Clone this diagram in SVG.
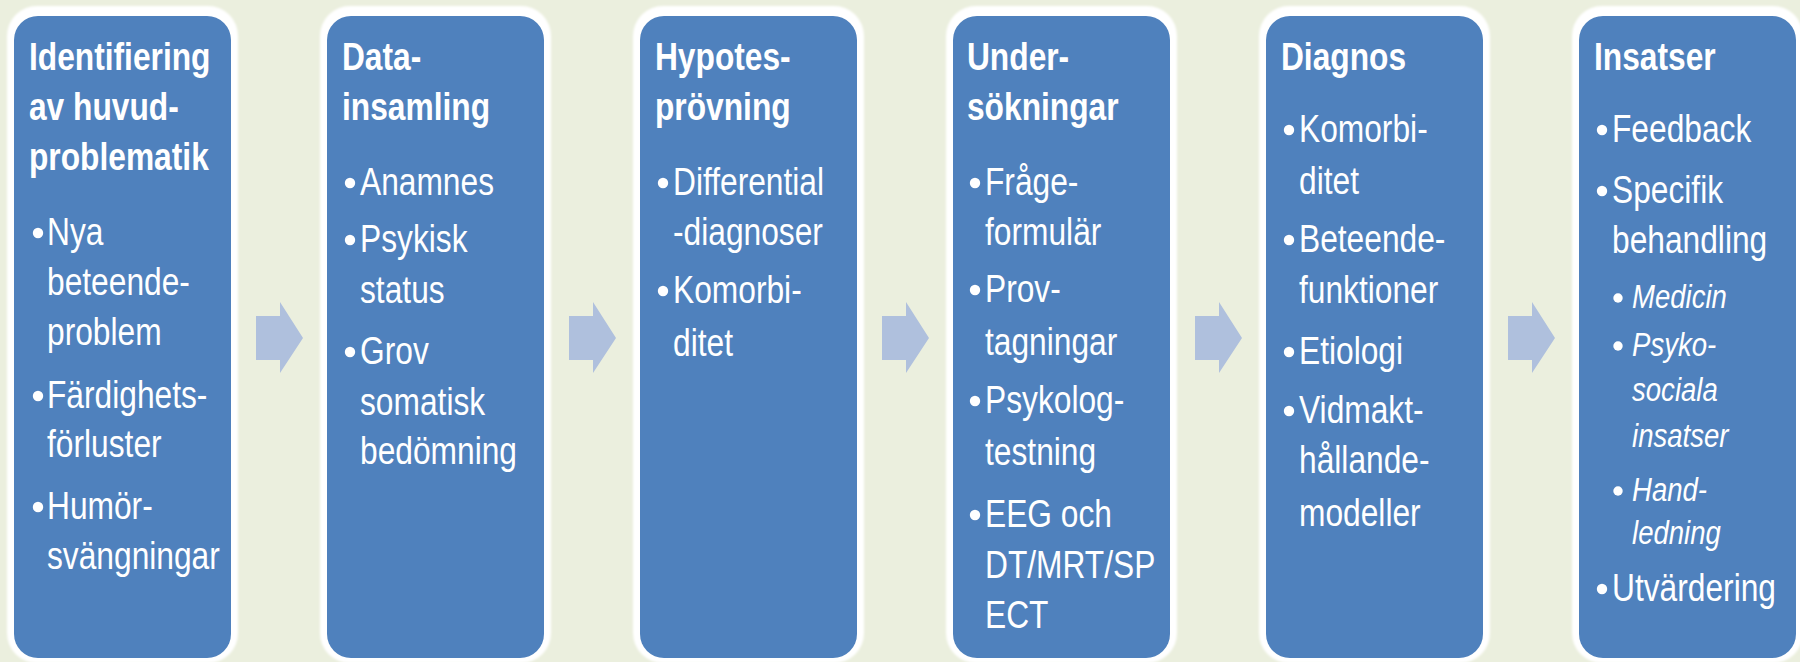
<svg xmlns="http://www.w3.org/2000/svg" width="1800" height="662" viewBox="0 0 1800 662">
<defs>
<filter id="soft" x="-5%" y="-5%" width="110%" height="110%"><feGaussianBlur stdDeviation="1.2"/></filter>
<polygon id="arr" points="256,316 280,316 280,302 303,338 280,373 280,360 256,360"/>
</defs>
<style>
.frame{fill:#ffffff;filter:url(#soft)}
.box{fill:#4f81bd}
.arrow{fill:#afc0dd}
text{font-family:"Liberation Sans",Arial,sans-serif;fill:#ffffff}
.t{font-size:38px;font-weight:bold}
.b{font-size:38px}
.i{font-size:33px;font-style:italic}
.dot{fill:#ffffff}
</style>
<rect x="0" y="0" width="1800" height="662" fill="#ebefde"/>

<g id="connectors">
<use href="#arr" class="arrow"/>
<use href="#arr" class="arrow" x="313"/>
<use href="#arr" class="arrow" x="626"/>
<use href="#arr" class="arrow" x="939"/>
<use href="#arr" class="arrow" x="1252"/>
</g>

<g id="node1">
<rect class="frame" x="7" y="6" width="231" height="657" rx="30"/>
<rect class="box" x="14" y="16" width="217" height="642" rx="24"/>
<circle class="dot" cx="38" cy="233" r="5.2"/>
<circle class="dot" cx="38" cy="396" r="5.2"/>
<circle class="dot" cx="38" cy="507" r="5.2"/>
<g transform="matrix(0.835,0,0,1,7.755,0)">
<text class="t" x="25.4" y="70">Identifiering</text>
<text class="t" x="25.4" y="120">av huvud-</text>
<text class="t" x="25.4" y="170">problematik</text>
<text class="b" x="47" y="245">Nya</text>
<text class="b" x="47" y="295">beteende-</text>
<text class="b" x="47" y="345">problem</text>
<text class="b" x="47" y="408">Färdighets-</text>
<text class="b" x="47" y="457">förluster</text>
<text class="b" x="47" y="519">Humör-</text>
<text class="b" x="47" y="569">svängningar</text>
</g>
</g>

<g id="node2">
<rect class="frame" x="320" y="6" width="231" height="657" rx="30"/>
<rect class="box" x="327" y="16" width="217" height="642" rx="24"/>
<circle class="dot" cx="350" cy="183" r="5.2"/>
<circle class="dot" cx="350" cy="240" r="5.2"/>
<circle class="dot" cx="350" cy="352" r="5.2"/>
<g transform="matrix(0.835,0,0,1,59.4,0)">
<text class="t" x="338.4" y="70">Data-</text>
<text class="t" x="338.4" y="120">insamling</text>
<text class="b" x="360" y="195">Anamnes</text>
<text class="b" x="360" y="252">Psykisk</text>
<text class="b" x="360" y="303">status</text>
<text class="b" x="360" y="364">Grov</text>
<text class="b" x="360" y="415">somatisk</text>
<text class="b" x="360" y="464">bedömning</text>
</g>
</g>

<g id="node3">
<rect class="frame" x="633" y="6" width="231" height="657" rx="30"/>
<rect class="box" x="640" y="16" width="217" height="642" rx="24"/>
<circle class="dot" cx="663" cy="183" r="5.2"/>
<circle class="dot" cx="663" cy="291" r="5.2"/>
<g transform="matrix(0.835,0,0,1,111.045,0)">
<text class="t" x="651.4" y="70">Hypotes-</text>
<text class="t" x="651.4" y="120">prövning</text>
<text class="b" x="673" y="195">Differential</text>
<text class="b" x="673" y="245">-diagnoser</text>
<text class="b" x="673" y="303">Komorbi-</text>
<text class="b" x="673" y="356">ditet</text>
</g>
</g>

<g id="node4">
<rect class="frame" x="946" y="6" width="231" height="657" rx="30"/>
<rect class="box" x="953" y="16" width="217" height="642" rx="24"/>
<circle class="dot" cx="975" cy="183" r="5.2"/>
<circle class="dot" cx="975" cy="290" r="5.2"/>
<circle class="dot" cx="975" cy="401" r="5.2"/>
<circle class="dot" cx="975" cy="515" r="5.2"/>
<g transform="matrix(0.835,0,0,1,162.525,0)">
<text class="t" x="963.4" y="70">Under-</text>
<text class="t" x="963.4" y="120">sökningar</text>
<text class="b" x="985" y="195">Fråge-</text>
<text class="b" x="985" y="245">formulär</text>
<text class="b" x="985" y="302">Prov-</text>
<text class="b" x="985" y="355">tagningar</text>
<text class="b" x="985" y="413">Psykolog-</text>
<text class="b" x="985" y="465">testning</text>
<text class="b" x="985" y="527">EEG och</text>
<text class="b" x="985" y="578">DT/MRT/SP</text>
<text class="b" x="985" y="628">ECT</text>
</g>
</g>

<g id="node5">
<rect class="frame" x="1259" y="6" width="231" height="657" rx="30"/>
<rect class="box" x="1266" y="16" width="217" height="642" rx="24"/>
<circle class="dot" cx="1289" cy="130" r="5.2"/>
<circle class="dot" cx="1289" cy="240" r="5.2"/>
<circle class="dot" cx="1289" cy="352" r="5.2"/>
<circle class="dot" cx="1289" cy="411" r="5.2"/>
<g transform="matrix(0.835,0,0,1,214.335,0)">
<text class="t" x="1277.4" y="70">Diagnos</text>
<text class="b" x="1299" y="142">Komorbi-</text>
<text class="b" x="1299" y="194">ditet</text>
<text class="b" x="1299" y="252">Beteende-</text>
<text class="b" x="1299" y="303">funktioner</text>
<text class="b" x="1299" y="364">Etiologi</text>
<text class="b" x="1299" y="423">Vidmakt-</text>
<text class="b" x="1299" y="473">hållande-</text>
<text class="b" x="1299" y="526">modeller</text>
</g>
</g>

<g id="node6">
<rect class="frame" x="1572" y="6" width="231" height="657" rx="30"/>
<rect class="box" x="1579" y="16" width="217" height="642" rx="24"/>
<circle class="dot" cx="1602" cy="130" r="5.2"/>
<circle class="dot" cx="1602" cy="191" r="5.2"/>
<circle class="dot" cx="1618" cy="298" r="4.7"/>
<circle class="dot" cx="1618" cy="346" r="4.7"/>
<circle class="dot" cx="1618" cy="491" r="4.7"/>
<circle class="dot" cx="1602" cy="589" r="5.2"/>
<g transform="matrix(0.835,0,0,1,265.98,0)">
<text class="t" x="1590.4" y="70">Insatser</text>
<text class="b" x="1612" y="142">Feedback</text>
<text class="b" x="1612" y="203">Specifik</text>
<text class="b" x="1612" y="253">behandling</text>
<text class="i" x="1636" y="308">Medicin</text>
<text class="i" x="1636" y="356">Psyko-</text>
<text class="i" x="1636" y="401">sociala</text>
<text class="i" x="1636" y="447">insatser</text>
<text class="i" x="1636" y="501">Hand-</text>
<text class="i" x="1636" y="544">ledning</text>
<text class="b" x="1612" y="601">Utvärdering</text>
</g>
</g>
</svg>
